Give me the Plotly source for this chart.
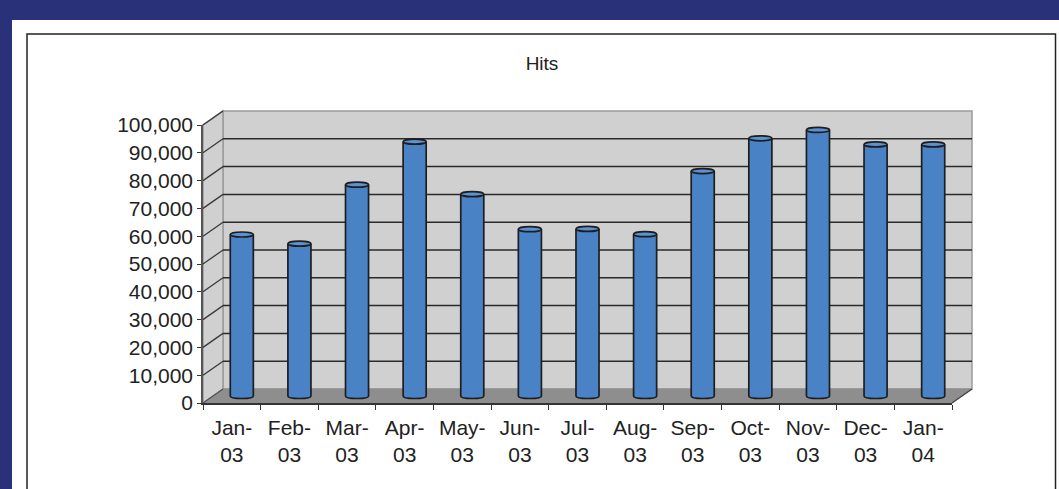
import plotly.graph_objects as go

# ---- data ----
months = ["Jan-03", "Feb-03", "Mar-03", "Apr-03", "May-03", "Jun-03", "Jul-03",
          "Aug-03", "Sep-03", "Oct-03", "Nov-03", "Dec-03", "Jan-04"]
hits = [58100, 54800, 76000, 91500, 72600, 60000, 60100, 58200, 80900, 92700,
        95700, 90500, 90500]
y_ticks = [0, 10000, 20000, 30000, 40000, 50000, 60000, 70000, 80000, 90000, 100000]
title_text = "Hits"

# ---- geometry helpers (pixels -> paper) ----
W, H = 1059, 489
def px(x):
    return x / W
def py(y):
    return 1 - y / H

FONT = "Liberation Sans, Arial, sans-serif"
NAVY = "rgb(41,50,120)"
BLUE = "#4a83c5"
EDGE = "#1e1e1e"

# back wall (px)
BW_L, BW_R, BW_T, BW_B = 223, 972, 111, 389
# front axis (px)
FR_L, FR_R, FR_T, FR_B = 203, 952, 125, 403
# mid depth (bars) : 0 at 396, 100k at 118
MID_L, MID_R = 213, 962
MID0, MID100 = 396, 118
pxper = (MID0 - MID100) / 100000
ylo, yhi = -5000, 105000

labels = [m.replace("-", "-<br>") for m in months]

fig = go.Figure()

# bars (mid depth axes)
fig.add_trace(go.Bar(
    x=labels, y=hits, width=0.4, marker=dict(color=BLUE, line=dict(width=0)),
    xaxis="x", yaxis="y", hoverinfo="x+y", showlegend=False))

# invisible trace for the front axes
fig.add_trace(go.Scatter(
    x=labels, y=[None] * len(labels), mode="markers", marker=dict(opacity=0),
    xaxis="x2", yaxis="y2", hoverinfo="skip", showlegend=False))

shapes = []
# white panel and chart border
shapes.append(dict(type="rect", xref="paper", yref="paper", x0=px(12), x1=px(1070),
                   y0=py(20), y1=py(520), fillcolor="white", line=dict(width=0), layer="below"))
shapes.append(dict(type="rect", xref="paper", yref="paper", x0=px(27), x1=px(1055.5),
                   y0=py(34), y1=py(520), fillcolor="white",
                   line=dict(color="#222", width=1.5), layer="below"))
# back wall
shapes.append(dict(type="rect", xref="paper", yref="paper", x0=px(BW_L), x1=px(BW_R),
                   y0=py(BW_B), y1=py(BW_T), fillcolor="#d0d0d0",
                   line=dict(color="#9a9a9a", width=1.5), layer="below"))
# side wall
shapes.append(dict(type="path", xref="paper", yref="paper",
                   path=f"M {px(FR_L)},{py(FR_B)} L {px(BW_L)},{py(BW_B)} L {px(BW_L)},{py(BW_T)} L {px(FR_L)},{py(FR_T)} Z",
                   fillcolor="#d0d0d0", line=dict(color="#9a9a9a", width=1.5), layer="below"))
# floor
shapes.append(dict(type="path", xref="paper", yref="paper",
                   path=f"M {px(FR_L)},{py(FR_B)} L {px(BW_L)},{py(BW_B)} L {px(BW_R)},{py(BW_B)} L {px(FR_R)},{py(FR_B)} Z",
                   fillcolor="#8e8e8e", line=dict(color="#8e8e8e", width=1), layer="below"))
# gridlines on back wall + diagonals on side wall
bk_scale = (BW_B - BW_T) / 100000
fr_scale = (FR_B - FR_T) / 100000
for t in y_ticks:
    yb = BW_B - t * bk_scale
    yf = FR_B - t * fr_scale
    if 0 < t < 100000:
        shapes.append(dict(type="line", xref="paper", yref="paper", x0=px(BW_L), x1=px(BW_R),
                           y0=py(yb), y1=py(yb), line=dict(color="#2a2a2a", width=1.5), layer="below"))
    shapes.append(dict(type="line", xref="paper", yref="paper", x0=px(FR_L), x1=px(BW_L),
                       y0=py(yf), y1=py(yb), line=dict(color="#3a3a3a" if t > 0 else "#555", width=1.3),
                       layer="below"))
# right floor edge diagonal
shapes.append(dict(type="line", xref="paper", yref="paper", x0=px(FR_R), x1=px(BW_R),
                   y0=py(FR_B), y1=py(BW_B), line=dict(color="#444", width=1.3), layer="below"))

# cylinder decorations derived from the data
half = 0.2
top_h = 900
bot_h = 900
for i, v in enumerate(hits):
    x0, x1 = i - half, i + half
    c = -4 / 3 * bot_h
    shapes.append(dict(type="path", xref="x", yref="y",
                       path=f"M {x0},{600} L {x0},0 C {x0},{c} {x1},{c} {x1},0 L {x1},{600} Z",
                       fillcolor=BLUE, line=dict(width=0), layer="above"))
    shapes.append(dict(type="path", xref="x", yref="y",
                       path=f"M {x0},{v} L {x0},0 C {x0},{c} {x1},{c} {x1},0 L {x1},{v}",
                       fillcolor="rgba(0,0,0,0)", line=dict(color=EDGE, width=1.7), layer="above"))
    shapes.append(dict(type="circle", xref="x", yref="y", x0=x0, x1=x1,
                       y0=v - top_h, y1=v + top_h, fillcolor="#5b92d2",
                       line=dict(color=EDGE, width=1.7), layer="above"))

fig.update_layout(
    width=W, height=H, autosize=False,
    margin=dict(l=0, r=0, t=0, b=0, pad=0, autoexpand=False),
    paper_bgcolor=NAVY, plot_bgcolor="rgba(0,0,0,0)",
    font=dict(family=FONT, color="#222"),
    title=dict(text=title_text, x=px(542), y=py(63), xanchor="center", yanchor="middle",
               automargin=False, font=dict(size=19, family=FONT, color="#222")),
    shapes=shapes,
    bargap=0,
    xaxis=dict(domain=[px(MID_L), px(MID_R)], anchor="y", type="category", automargin=False,
               range=[-0.5, len(months) - 0.5], visible=False, fixedrange=True),
    yaxis=dict(domain=[py(MID0 - ylo * pxper), py(MID0 - yhi * pxper)], anchor="x", automargin=False,
               range=[ylo, yhi], visible=False, fixedrange=True),
    xaxis2=dict(domain=[px(FR_L), px(FR_R)], anchor="y2", type="category", automargin=False,
                range=[-0.5, len(months) - 0.5], showline=True, linecolor="#333", linewidth=1.5,
                ticks="outside", ticklen=5, tickcolor="#333", tickwidth=1.3,
                tickson="boundaries", showgrid=False, zeroline=False, ticklabelstandoff=5,
                tickfont=dict(size=21, family=FONT, color="#222"), fixedrange=True),
    yaxis2=dict(domain=[py(FR_B), py(FR_T)], anchor="x2", range=[0, 100000], automargin=False,
                tickvals=y_ticks, tickformat=",", showline=True, linecolor="#555", linewidth=1.5,
                ticks="outside", ticklen=4, tickcolor="#333", tickwidth=1.3,
                showgrid=False, zeroline=False,
                tickfont=dict(size=21, family=FONT, color="#222"), fixedrange=True),
)

fig.write_html("out.html", config={"displayModeBar": False},
               post_script="document.body.style.margin='0';document.body.style.overflow='hidden';")
